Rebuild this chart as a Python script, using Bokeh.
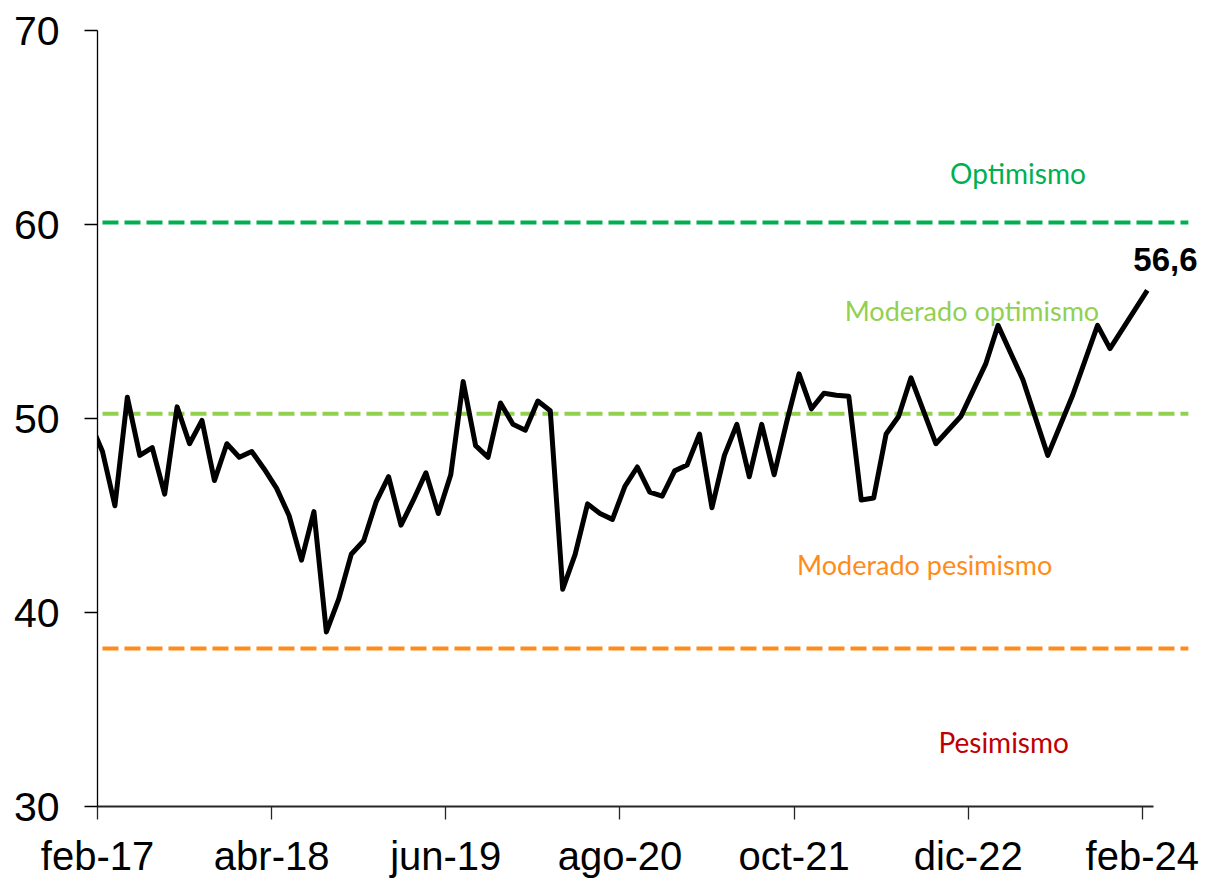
import pandas as pd
from bokeh.plotting import figure
from bokeh.models import Range1d, FixedTicker, Label
from bokeh.embed import file_html
from bokeh.resources import INLINE

# ---------------- data ----------------
months = [
    "2017-01", "2017-02", "2017-03", "2017-04", "2017-05", "2017-06", "2017-07", "2017-08",
    "2017-09", "2017-10", "2017-11", "2017-12", "2018-01", "2018-02", "2018-03", "2018-04",
    "2018-05", "2018-06", "2018-07", "2018-08", "2018-09", "2018-10", "2018-11", "2018-12",
    "2019-01", "2019-02", "2019-03", "2019-04", "2019-05", "2019-06", "2019-07", "2019-08",
    "2019-09", "2019-10", "2019-11", "2019-12", "2020-01", "2020-02", "2020-03", "2020-04",
    "2020-05", "2020-06", "2020-07", "2020-08", "2020-09", "2020-10", "2020-11", "2020-12",
    "2021-01", "2021-02", "2021-03", "2021-04", "2021-05", "2021-06", "2021-07", "2021-08",
    "2021-09", "2021-10", "2021-11", "2021-12", "2022-01", "2022-02", "2022-03", "2022-04",
    "2022-05", "2022-06", "2022-07", "2022-09", "2022-11", "2023-01", "2023-02", "2023-04",
    "2023-06", "2023-08", "2023-10", "2023-11", "2024-02",
]
index_values = [
    49.8, 48.3, 45.5, 51.1, 48.1, 48.5, 46.1, 50.6,
    48.7, 49.9, 46.8, 48.7, 48.0, 48.3, 47.4, 46.4,
    45.0, 42.7, 45.2, 39.0, 40.7, 43.0, 43.7, 45.7,
    47.0, 44.5, 45.8, 47.2, 45.1, 47.1, 51.9, 48.6,
    48.0, 50.8, 49.7, 49.4, 50.9, 50.4, 41.2, 43.0,
    45.6, 45.1, 44.8, 46.5, 47.5, 46.2, 46.0, 47.3,
    47.6, 49.2, 45.4, 48.1, 49.7, 47.0, 49.7, 47.1,
    49.8, 52.3, 50.5, 51.3, 51.2, 51.15, 45.8, 45.9,
    49.2, 50.1, 52.1, 48.7, 50.1, 52.8, 54.8, 52.0,
    48.1, 51.2, 54.8, 53.6, 56.6,
]
tick_months = ["2017-02", "2018-04", "2019-06", "2020-08", "2021-10", "2022-12", "2024-02"]
tick_labels = ["feb-17", "abr-18", "jun-19", "ago-20", "oct-21", "dic-22", "feb-24"]
y_ticks = [30, 40, 50, 60, 70]

thresholds = [60.1, 50.25, 38.15]
threshold_colors = ["#00B050", "#92D050", "#FF8C1A"]

zone_names = ["Optimismo", "Moderado optimismo", "Moderado pesimismo", "Pesimismo"]
zone_colors = ["#00B050", "#92D050", "#FF8C1A", "#C00000"]

# ---------------- helpers ----------------
base = pd.Period("2017-02", freq="M")


def month_pos(s):
    return (pd.Period(s, freq="M") - base).n


x = [month_pos(m) + 0.4 for m in months]
tick_pos = [month_pos(m) for m in tick_months]

X_END = 89.4          # right edge of the plotting frame (months)
DASH_START = 0.4      # where the threshold lines start (months)
DASH_END = 87.7       # where the threshold lines stop (months)

# ---------------- figure ----------------
p = figure(
    width=1209, height=880,
    x_range=Range1d(0, X_END), y_range=Range1d(30, 70),
    output_backend="svg", toolbar_location=None,
    min_border_left=97, min_border_right=0, min_border_top=30, min_border_bottom=0,
)
p.outline_line_color = None
p.xgrid.visible = False
p.ygrid.visible = False
p.background_fill_color = "white"
p.border_fill_color = "white"

# y axis
ya = p.yaxis[0]
ya.ticker = FixedTicker(ticks=y_ticks)
ya.axis_line_color = "black"
ya.axis_line_width = 1.3
ya.major_tick_line_color = "black"
ya.major_tick_line_width = 1.3
ya.major_tick_out = 13
ya.major_tick_in = 0
ya.minor_tick_line_color = None
ya.major_label_standoff = 25
ya.major_label_text_font = "Liberation Sans"
ya.major_label_text_font_size = "41px"
ya.major_label_text_color = "black"

# x axis
xa = p.xaxis[0]
xa.ticker = FixedTicker(ticks=tick_pos)
xa.major_label_overrides = {t: lab for t, lab in zip(tick_pos, tick_labels)}
xa.bounds = (0, 84.9)
xa.axis_line_color = "#262626"
xa.axis_line_width = 2
xa.major_tick_line_color = "#262626"
xa.major_tick_line_width = 1.3
xa.major_tick_out = 13
xa.major_tick_in = 0
xa.minor_tick_line_color = None
xa.major_label_standoff = 14
xa.major_label_text_font = "Liberation Sans"
xa.major_label_text_font_size = "40px"
xa.major_label_text_color = "black"

# threshold lines
n = len(thresholds)
p.segment(x0=[DASH_START] * n, x1=[DASH_END] * n, y0=thresholds, y1=thresholds,
          line_color=threshold_colors, line_width=4, line_dash="16 6")

# main series
p.line(x, index_values, line_color="black", line_width=5, line_join="round")

# last value label
last_txt = f"{index_values[-1]:.1f}".replace(".", ",")
p.add_layout(Label(x=x[-1], y=index_values[-1], text=last_txt,
                   x_offset=-14, y_offset=31,
                   text_font="Liberation Sans", text_font_style="bold",
                   text_font_size="33px", text_color="black",
                   text_align="left", text_baseline="alphabetic"))

# zone labels
zone_x = [74.0, 70.3, 66.5, 72.85]
zone_y = [62.66, 55.56, 42.46, 33.31]
zone_size = ["28px", "27px", "27px", "28px"]
for name, col, zx, zy, fs in zip(zone_names, zone_colors, zone_x, zone_y, zone_size):
    p.add_layout(Label(x=zx, y=zy, text=name, text_color=col,
                       text_font="Lato", text_font_size=fs,
                       text_align="center", text_baseline="alphabetic"))

open("out.html", "w").write(file_html(p, INLINE))
